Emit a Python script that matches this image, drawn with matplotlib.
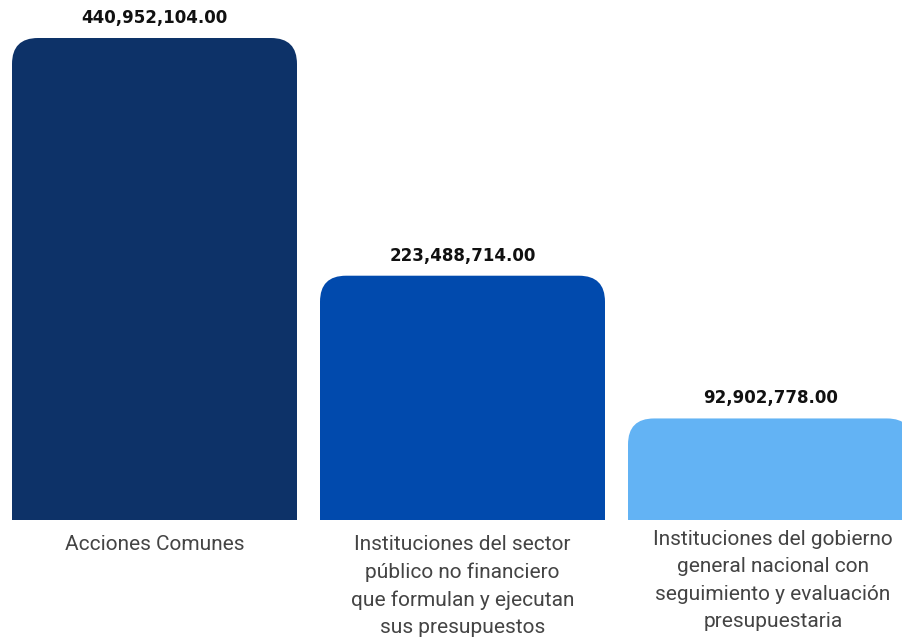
import matplotlib
matplotlib.use("Agg")
import matplotlib.pyplot as plt
from matplotlib.patches import FancyBboxPatch

categories = [
    "Acciones Comunes",
    "Instituciones del sector\npúblico no financiero\nque formulan y ejecutan\nsus presupuestos",
    "Instituciones del gobierno\ngeneral nacional con\nseguimiento y evaluación\npresupuestaria",
]
values = [440952104.00, 223488714.00, 92902778.00]
colors = ["#0d3268", "#014aad", "#63b3f4"]

fig = plt.figure(figsize=(9.02, 6.38), dpi=100)
ax = fig.add_axes([0, 118 / 638, 1, 520 / 638])
ax.set_xlim(-154.5 / 308, (902 - 154.5) / 308)
ax.set_ylim(0, values[0] * 520 / 482)
ax.axis("off")

x = list(range(len(values)))
bars = ax.bar(x, values, width=285 / 308, color=colors)

fig.canvas.draw()
p0 = ax.transData.transform((0, 0))
p1 = ax.transData.transform((1, 1e8))
xpp = 1 / (p1[0] - p0[0])
ypp = 1e8 / (p1[1] - p0[1])
radius_px = 26
for rect, c in zip(bars, colors):
    x0, w, h = rect.get_x(), rect.get_width(), rect.get_height()
    rect.remove()
    ext = 60 * ypp
    patch = FancyBboxPatch((x0, -ext), w, h + ext,
                           boxstyle=f"round,pad=0,rounding_size={radius_px * xpp}",
                           mutation_aspect=ypp / xpp,
                           facecolor=c, edgecolor="none")
    ax.add_patch(patch)

for xi, v in zip(x, values):
    ax.annotate(f"{v:,.2f}", (xi, v), xytext=(0, 14.4), textcoords="offset points",
                ha="center", va="center", fontsize=12, fontweight="bold",
                color="#111111", family="DejaVu Sans")

label_x = [154.5, 462.5, 773]
label_top = [535, 535, 530]
for lx, lab, ly in zip(label_x, categories, label_top):
    fig.text(lx / 902, 1 - ly / 638, lab,
             ha="center", va="top", fontsize=15, color="#444444",
             family="Roboto", linespacing=1.55,
             transform=fig.transFigure)

fig.savefig("out.png", dpi=100)
